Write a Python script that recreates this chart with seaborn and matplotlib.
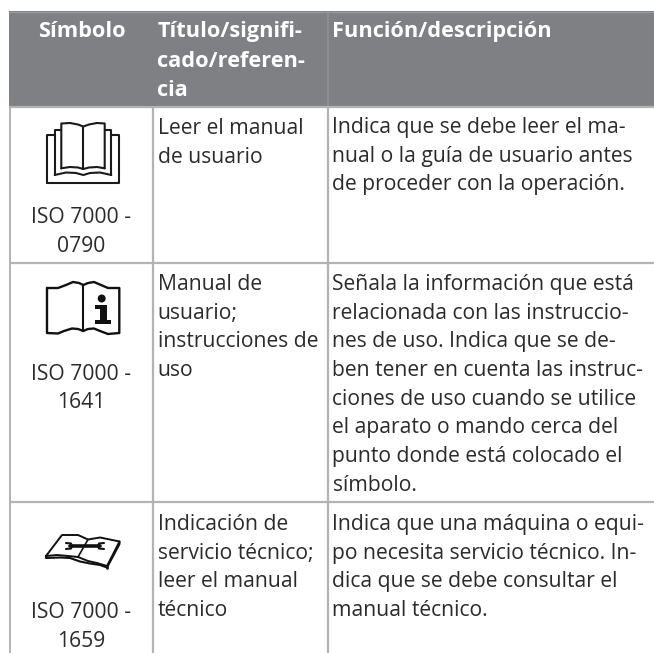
import matplotlib
matplotlib.use("Agg")
import matplotlib.pyplot as plt
import seaborn as sns
from matplotlib.patches import Rectangle, Circle, Polygon

# table text
headers = ["Símbolo", "Título/signifi-\ncado/referen-\ncia", "Función/descripción"]
codes = ["ISO 7000 -\n0790", "ISO 7000 -\n1641", "ISO 7000 -\n1659"]
titles = [
    "Leer el manual\nde usuario",
    "Manual de\nusuario;\ninstrucciones de\nuso",
    "Indicación de\nservicio técnico;\nleer el manual\ntécnico",
]
descriptions = [
    "Indica que se debe leer el ma-\nnual o la guía de usuario antes\nde proceder con la operación.",
    "Señala la información que está\nrelacionada con las instruccio-\nnes de uso. Indica que se de-\nben tener en cuenta las instruc-\nciones de uso cuando se utilice\nel aparato o mando cerca del\npunto donde está colocado el\nsímbolo.",
    "Indica que una máquina o equi-\npo necesita servicio técnico. In-\ndica que se debe consultar el\nmanual técnico.",
]

# baselines of the first line in each row, in pixels
code_y = [223, 379.5, 618]
title_y = [134, 290, 530]
desc_y = [133, 290, 530]

sns.set_theme(style="white")
plt.rcParams["font.family"] = ["Open Sans", "DejaVu Sans"]

fig = plt.figure(figsize=(6.54, 6.53), dpi=100)
ax = fig.add_axes([0, 0, 1, 1])
ax.set_xlim(0, 654)
ax.set_ylim(653, 0)
ax.axis("off")

HEAD = "#7e8084"
GRID = "#b3b3b3"
INK = "#2b2b2b"
SIZE = 15.2
BOLD = 15.7
STEP = 28.7


def block(x, y, s, ha="left", color=INK, weight="normal", size=SIZE, step=STEP):
    for i, line in enumerate(s.split("\n")):
        ax.text(x, y + i * step, line, ha=ha, va="baseline", fontsize=size,
                color=color, fontweight=weight)


def stroke(pts, lw=1.5, color="#1a1a1a"):
    xs, ys = zip(*pts)
    ax.plot(xs, ys, color=color, lw=lw, solid_joinstyle="round", solid_capstyle="round")


# header band and grid
ax.add_patch(Rectangle((9, 11), 645, 95, color=HEAD, lw=0))
ax.hlines(11.5, 9, 654, color="#9a9a9a", lw=1)
ax.hlines([106.5, 263, 502], 9, 654, color=GRID, lw=1.6)
ax.vlines(9.5, 106, 653, color=GRID, lw=1.4)
ax.vlines([153, 327.5], 106, 653, color=GRID, lw=1.6)
ax.vlines(327.5, 11, 106, color="#8f9093", lw=1.2)

# text
block(81.5, 37, headers[0], ha="center", color="white", weight="bold", size=BOLD)
block(157.5, 37, headers[1], color="white", weight="bold", size=BOLD, step=29.6)
block(332.5, 37, headers[2], color="white", weight="bold", size=BOLD)

for code, y in zip(codes, code_y):
    block(81, y, code, ha="center")
for title, y in zip(titles, title_y):
    block(157.5, y, title)
for desc, y in zip(descriptions, desc_y):
    block(332.5, y, desc)

# icon 1, open book on a stack
stroke([(46.7, 182.5), (119.3, 182.5), (119.3, 134.5), (111.3, 134.5)])
stroke([(46.7, 182.5), (46.7, 134.5), (54.7, 134.5)])
stroke([(54.7, 175), (54.7, 129.5), (61.3, 129.5)])
stroke([(111.3, 175), (111.3, 129.5), (104.7, 129.5)])
stroke([(54.7, 175), (66, 172.5), (76, 173), (83.3, 175), (90, 173), (100, 172.5), (111.3, 175)])
stroke([(61.3, 168.3), (61.3, 123.5), (70, 123), (78, 124.5), (83.3, 126.5), (89, 124.5), (97, 123), (104.7, 123.5), (104.7, 168.3)])
stroke([(61.3, 168.3), (70, 167), (78, 167.5), (83.3, 169), (89, 167.5), (97, 167), (104.7, 168.3)])
stroke([(83.3, 126.5), (83.3, 169)])

# icon 2, manual with the i mark
stroke([(47, 288), (58, 288), (66, 285), (73, 282), (79, 283), (83.3, 285), (88, 283), (94, 282), (101, 285),
        (108, 288), (119.3, 288), (119.3, 333), (108, 334), (100, 331), (94, 328.5), (88, 329), (83.3, 331),
        (78, 329), (72, 328.5), (64, 331), (58, 333.5), (47, 333), (47, 288)], lw=1.7, color="#111111")
stroke([(83.3, 285), (83.3, 331)], lw=1.5, color="#111111")
ax.add_patch(Circle((101.7, 298.5), 4, color="#111111", lw=0))
ax.add_patch(Polygon([(95, 305), (107, 305), (107, 320), (110.5, 320), (110.5, 323.5), (94.5, 323.5),
                      (94.5, 320), (99.5, 320), (99.5, 309), (95, 309)], color="#111111", lw=0))

# icon 3, manual with spanner
stroke([(46, 556), (62, 535), (78, 535), (88, 539.5), (100, 537.5), (119.5, 541.5), (107, 566),
        (97, 563), (88, 561), (78, 557), (68, 556), (57, 555), (46, 556)], lw=1.4, color="#111111")
stroke([(46, 556), (46, 558), (60, 557.5), (70, 558), (80, 561.5), (90, 563.5), (100, 565), (107, 567.5),
        (119.5, 544), (119.5, 541.5)], lw=1.5, color="#111111")
stroke([(107, 566), (107, 567.5)], lw=2)
stroke([(88, 539.5), (78, 557)], lw=1.2, color="#111111")
stroke([(70, 546), (100, 546)], lw=2.6, color="#111111")
stroke([(66, 543), (71, 543.5), (72, 546), (71, 548.5), (66, 549)], lw=1.5, color="#111111")
stroke([(104, 543), (99, 543.5), (98, 546), (99, 548.5), (104, 549)], lw=1.5, color="#111111")

fig.savefig("out.png", dpi=100, facecolor="white")
